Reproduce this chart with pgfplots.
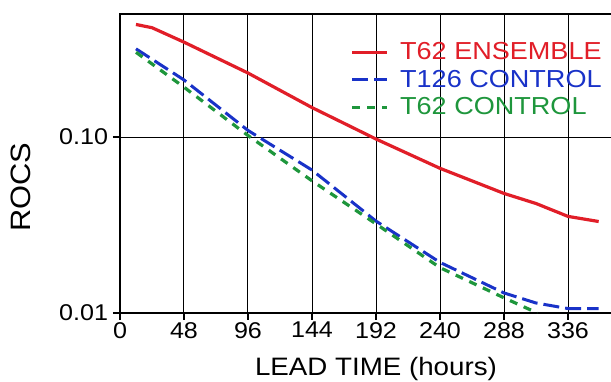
\documentclass[border=0pt]{standalone}
\usepackage{fontspec}
\setmainfont[FakeStretch=1.1]{Liberation Sans}
\usepackage{pgfplots}
\pgfplotsset{compat=1.18}
\definecolor{cred}{RGB}{225,30,40}
\definecolor{cblue}{RGB}{25,50,200}
\definecolor{cgreen}{RGB}{30,150,60}
\begin{document}
\begin{tikzpicture}
\begin{axis}[
  scale only axis, width=256pt, height=149.5pt,
  xmin=0, xmax=384, ymode=log, ymin=0.01, ymax=0.5,
  xtick={0,48,...,336}, ytick={0.01,0.1}, yticklabels={0.01,0.10},
  yminorticks=false,
  grid=major, grid style={black, line width=0.5pt},
  axis line style={black, line width=0.6pt},
  tick style={black, line width=0.6pt},
  tick align=outside, major tick length=3.5pt,
  xtick pos=bottom, ytick pos=left,
  /pgf/number format/assume math mode=true,
  ticklabel style={font=\fontsize{11.4}{13}\selectfont},
  yticklabel style={inner sep=2.3pt},
  xticklabel style={inner sep=0.9pt},
  xlabel={LEAD TIME (hours)}, ylabel={ROCS},
  label style={font=\fontsize{12.6}{14}\selectfont},
  xlabel style={at={(rel axis cs:0.5,-0.2074)}, anchor=base},
  ylabel style={at={(rel axis cs:-0.1934,0.42)}, anchor=center, font=\fontsize{14}{15}\selectfont},
  legend style={draw=none, fill=none, at={(rel axis cs:0.45,1)}, anchor=north west,
    yshift=-13.85pt, inner sep=0pt, row sep=3.8pt, column sep=6pt,
    font=\fontsize{12.3}{12.3}\selectfont, nodes={inner sep=0pt}},
  legend cell align=left,
]
\addplot[cred, line width=1.6pt] coordinates {
 (12,0.436) (24,0.418) (48,0.346) (96,0.231) (144,0.147) (192,0.0974)
 (240,0.0664) (288,0.0478) (312,0.0419) (336,0.0354) (359,0.0331)};
\addlegendentry{\textcolor{cred}{T62 ENSEMBLE}}
\addplot[cblue, line width=1.5pt, dash pattern=on 8pt off 3pt] coordinates {
 (12,0.317) (48,0.211) (96,0.109) (144,0.0649) (192,0.0333) (240,0.0194)
 (288,0.0130) (312,0.0114) (336,0.0106) (359,0.0106)};
\addlegendentry{\textcolor{cblue}{T126 CONTROL}}
\addplot[cgreen, line width=1.6pt, dash pattern=on 4pt off 3.5pt] coordinates {
 (12,0.303) (48,0.192) (96,0.102) (144,0.0564) (192,0.0321) (240,0.0181)
 (288,0.0122) (313,0.0100)};
\addlegendentry{\textcolor{cgreen}{T62 CONTROL}}
\coordinate (bl) at (rel axis cs:0,0);
\coordinate (tr) at (rel axis cs:0.959,1);
\end{axis}
\pgfresetboundingbox
\path[use as bounding box] ([shift={(-60pt,-34pt)}]bl) rectangle ([shift={(0pt,7pt)}]tr);
\end{tikzpicture}
\end{document}
